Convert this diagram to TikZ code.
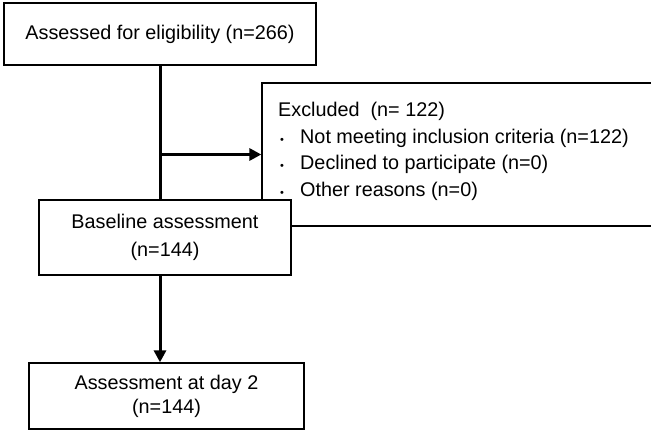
\documentclass[tikz,border=0pt]{standalone}
\usepackage{fontspec}
\setmainfont{Liberation Sans}
\usetikzlibrary{positioning,arrows.meta}

\begin{document}
\begin{tikzpicture}[x=1pt, y=-1pt,
    bb/.style={draw, line width=1.3pt, fill=white, align=center, inner sep=0pt,
      font=\fontsize{19.8}{27}\selectfont},
    flow/.style={-{Triangle[length=12pt,width=12pt]}, line width=3pt}]
            \clip (0,0) rectangle (651,433);
            \node[bb, minimum width=400, minimum height=143] (excl) at (462,154.5) {};
            \node[align=left, anchor=base west, inner sep=0pt,
              font=\fontsize{19.8}{26.5}\selectfont] (excltext) at (278,196.5) {Excluded~~(n= 122)\\
              \makebox[22pt][l]{\hspace{2pt}{\fontsize{11}{11}\selectfont\textbullet}}Not meeting inclusion criteria (n=122)\\
              \makebox[22pt][l]{\hspace{2pt}{\fontsize{11}{11}\selectfont\textbullet}}Declined to participate (n=0)\\
              \makebox[22pt][l]{\hspace{2pt}{\fontsize{11}{11}\selectfont\textbullet}}Other reasons (n=0)};
            \node[bb, minimum width=312, minimum height=62] (elig) at (160,34) {Assessed for eligibility (n=266)};
            \node[bb, minimum width=252, minimum height=75, font=\fontsize{19.8}{28}\selectfont] (base) at (165,237.5) {Baseline assessment\\(n=144)};
            \node[bb, minimum width=275, minimum height=66, font=\fontsize{19.8}{24}\selectfont] (day2) at (166.5,396) {Assessment at day 2\\(n=144)};
            \draw[line width=3pt] (elig.south) -- (elig.south |- base.north);
            \draw[flow] (elig.south |- excl.west) -- (excl.west);
            \draw[flow] (elig.south |- base.south) -- (elig.south |- day2.north);
        \end{tikzpicture}
\end{document}
